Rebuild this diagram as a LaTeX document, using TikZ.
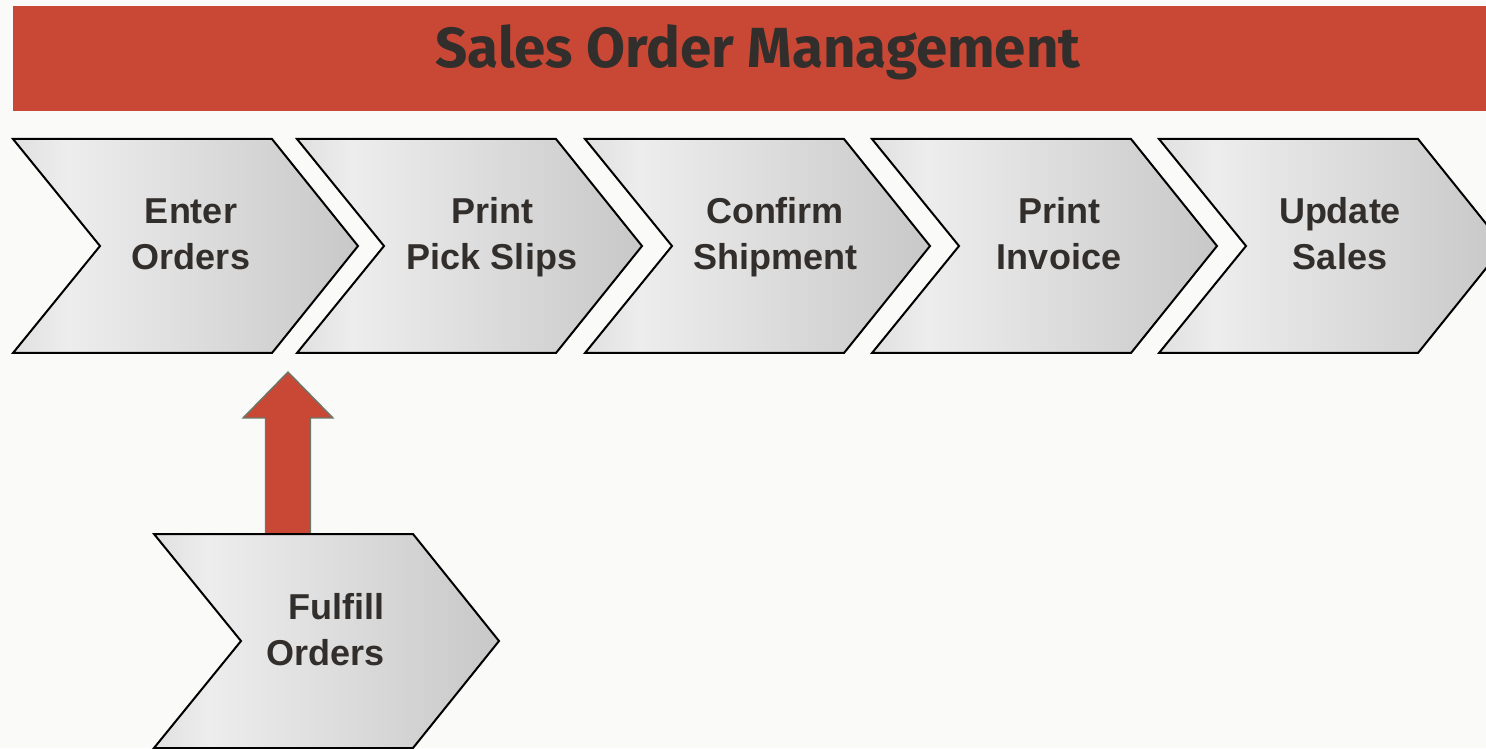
\documentclass[tikz,border=0pt]{standalone}
\usepackage{fontspec}
\setmainfont{Liberation Sans}
\newfontfamily\titlefont{Fira Sans}
\newfontfamily\stepfont{Liberation Sans}
\usetikzlibrary{calc}
\definecolor{BannerColor}{RGB}{200,72,53}
\definecolor{PageColor}{RGB}{250,250,248}
\definecolor{TextColor}{RGB}{50,46,44}
\definecolor{EdgeColor}{RGB}{105,120,105}
\definecolor{ChevLeft}{RGB}{224,224,224}
\definecolor{ChevLight}{RGB}{237,237,237}
\definecolor{ChevRight}{RGB}{200,200,200}
\pgfdeclarehorizontalshading{chevronshade}{100bp}{color(0bp)=(ChevLeft); color(25bp)=(ChevLeft); color(33bp)=(ChevLight); color(75bp)=(ChevRight); color(100bp)=(ChevRight)}
\tikzstyle{chevron} = [draw=black, line width=2pt, shade, shading=chevronshade]
\tikzstyle{steplabel} = [align=center, text=TextColor, font=\stepfont\bfseries\fontsize{36}{46}\selectfont, inner sep=0pt]
\tikzstyle{blockarrow} = [fill=BannerColor, draw=EdgeColor, line width=1.4pt]
% chevron with its top left corner at (#1,#2)
\newcommand{\chevronshape}[2]{\path[chevron] (#1,#2) -- ++(259,0) -- ++(86,-107) -- ++(-86,-107) -- ++(-259,0) -- ++(87,107) -- cycle;}

\begin{document}
\begin{tikzpicture}[x=1pt, y=1pt]
    % Page
    \clip (0,0) rectangle (1486,748);
    \fill[PageColor] (0,0) rectangle (1486,748);

    % Banner
    \fill[BannerColor] (13,637) rectangle (1486,742);
    \node (title) [anchor=base, text=TextColor, font=\titlefont\bfseries\fontsize{56.5}{60}\selectfont] at (758,680) {Sales Order Management};

    % Process steps
    \foreach \lx/\tx/\nm/\txt in {13/191/enter/{Enter\\Orders}, 297/492/pick/{Print\\Pick Slips}, 585/775/confirm/{Confirm\\Shipment}, 872/1059/invoice/{Print\\Invoice}, 1159/1340/update/{Update\\Sales}}{
        \chevronshape{\lx}{609}
        \node (\nm) [steplabel, anchor=base] at (\tx,478) {\txt};
    }

    % Arrow from the side step
    \coordinate (arrowbase) at (288,214);
    \coordinate (arrowtip) at (288,376);
    \draw[blockarrow] ($(arrowbase)+(-22.5,0)$) -- ($(arrowtip)+(-22.5,-46)$) -- ($(arrowtip)+(-45,-46)$) -- (arrowtip) -- ($(arrowtip)+(45,-46)$) -- ($(arrowtip)+(22.5,-46)$) -- ($(arrowbase)+(22.5,0)$);

    % Side step
    \chevronshape{154}{214}
    \node (fulfill) [steplabel, align=right, anchor=base east] at (385,83) {Fulfill\\Orders};
\end{tikzpicture}
\end{document}
